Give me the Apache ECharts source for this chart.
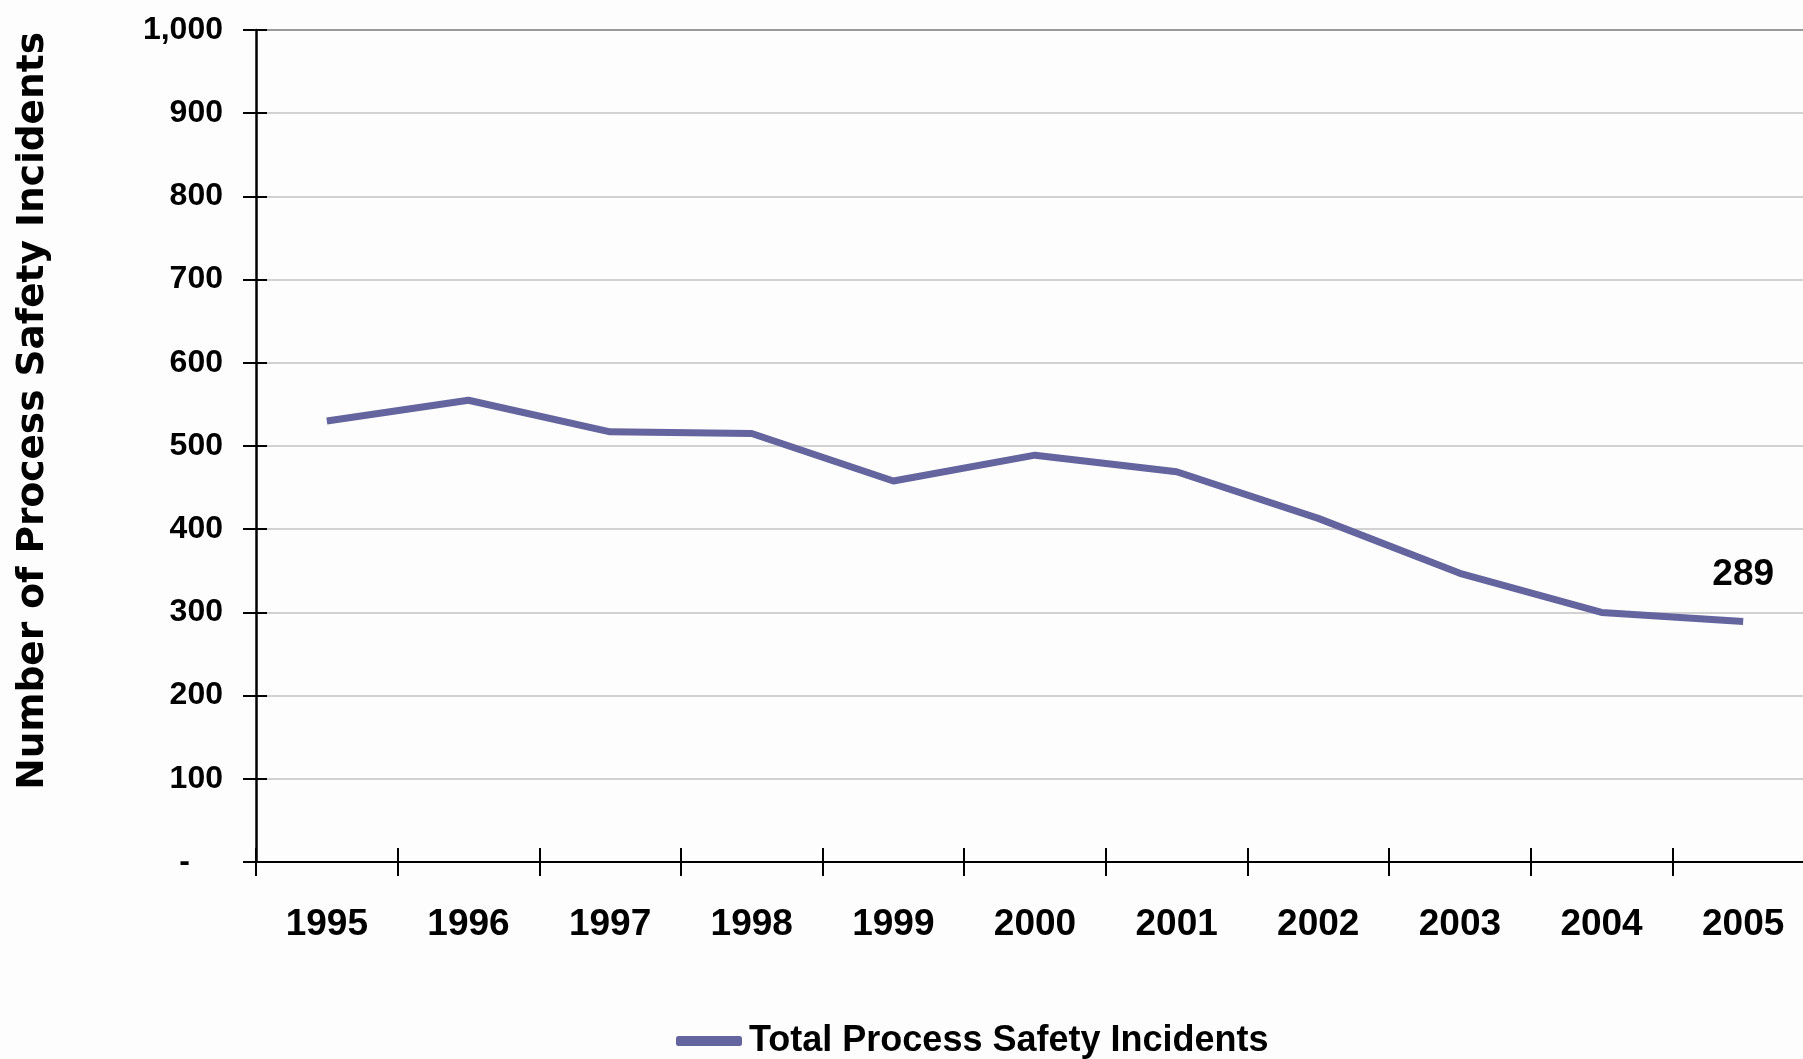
<!DOCTYPE html>
<html><head><meta charset="utf-8">
<script src="https://cdn.jsdelivr.net/npm/echarts@6/dist/echarts.min.js"></script>
<style>html,body{margin:0;padding:0;background:#fdfdfd;}#c{width:1803px;height:1059px;}</style>
</head><body><div id="c"></div>
<script>
const years = ['1995','1996','1997','1998','1999','2000','2001','2002','2003','2004','2005'];
const incidents = [530, 555, 517, 515, 458, 489, 469, 413, 347, 300, 289];
const yTickLabels = ['-','100','200','300','400','500','600','700','800','900','1,000'];
const seriesName = 'Total Process Safety Incidents';
const yTitle = 'Number of Process Safety Incidents';

const FONT = "'Liberation Sans',Arial,sans-serif";
const chart = echarts.init(document.getElementById('c'), null, {renderer:'canvas'});
const lineColor = '#64649e';
const gridColors = yTickLabels.map((t,i)=> i===yTickLabels.length-1 ? '#9a9a9a' : '#d2d2d2');

chart.setOption({
  backgroundColor:'#fdfdfd',
  animation:false,
  grid:{left:256, width:1558, top:30, bottom:197, outerBoundsMode:'none', containLabel:false},
  legend:{
    top:1018, left:671,
    itemWidth:66, itemHeight:10, itemGap:8,
    icon:'roundRect',
    data:[seriesName],
    textStyle:{fontFamily:FONT, fontWeight:'bold', fontSize:36, color:'#000', padding:[0,0,0,2]}
  },
  xAxis:[{
    type:'category', data:years, boundaryGap:true,
    axisLine:{lineStyle:{color:'#000', width:2}},
    axisTick:{show:true, length:14, lineStyle:{color:'#000', width:2}},
    axisLabel:{margin:44, fontFamily:FONT, fontWeight:'bold', fontSize:37, color:'#000'},
    splitLine:{show:false}
  },{
    type:'category', data:years, boundaryGap:true, position:'bottom',
    axisLine:{show:false},
    axisTick:{show:true, inside:true, length:14, lineStyle:{color:'#000', width:2}},
    axisLabel:{show:false}, splitLine:{show:false}
  }],
  yAxis:[{
    type:'value', min:0, max:1000, interval:100,
    axisLine:{show:true, lineStyle:{color:'#000', width:2.5}},
    axisTick:{show:true, length:13, lineStyle:{color:'#000', width:2}},
    axisLabel:{margin:33, fontFamily:FONT, fontWeight:'bold', fontSize:32, color:'#000',
      formatter:(v)=>{const t=yTickLabels[Math.round(v/100)]; return v===0 ? '{z|'+t+'}' : t;},
      rich:{z:{fontFamily:FONT, fontWeight:'bold', fontSize:32, color:'#000', padding:[0,33,0,0]}}
    },
    splitLine:{show:true, lineStyle:{color:gridColors, width:2}}
  },{
    type:'value', min:0, max:1000, interval:100, position:'left',
    axisLine:{show:false},
    axisTick:{show:true, inside:true, length:11, lineStyle:{color:'#000', width:2}},
    axisLabel:{show:false}, splitLine:{show:false}
  }],
  series:[{
    name:seriesName, type:'line', xAxisIndex:0, yAxisIndex:0,
    data:incidents.map((v,i)=> i===incidents.length-1 ? {value:v, label:{show:true}} : v),
    symbol:'circle', symbolSize:0, showSymbol:true, smooth:false,
    lineStyle:{color:lineColor, width:7},
    itemStyle:{color:lineColor},
    label:{show:false, position:'top', distance:28, fontFamily:FONT, fontWeight:'bold', fontSize:37, color:'#000'}
  }],
  graphic:[{
    type:'text', left:14, top:32, rotation:Math.PI/2,
    style:{text:yTitle, fontFamily:"'DejaVu Sans',Verdana,sans-serif", fontWeight:'bold', fontSize:37.5, fill:'#000'}
  }]
});
</script>
</body></html>
